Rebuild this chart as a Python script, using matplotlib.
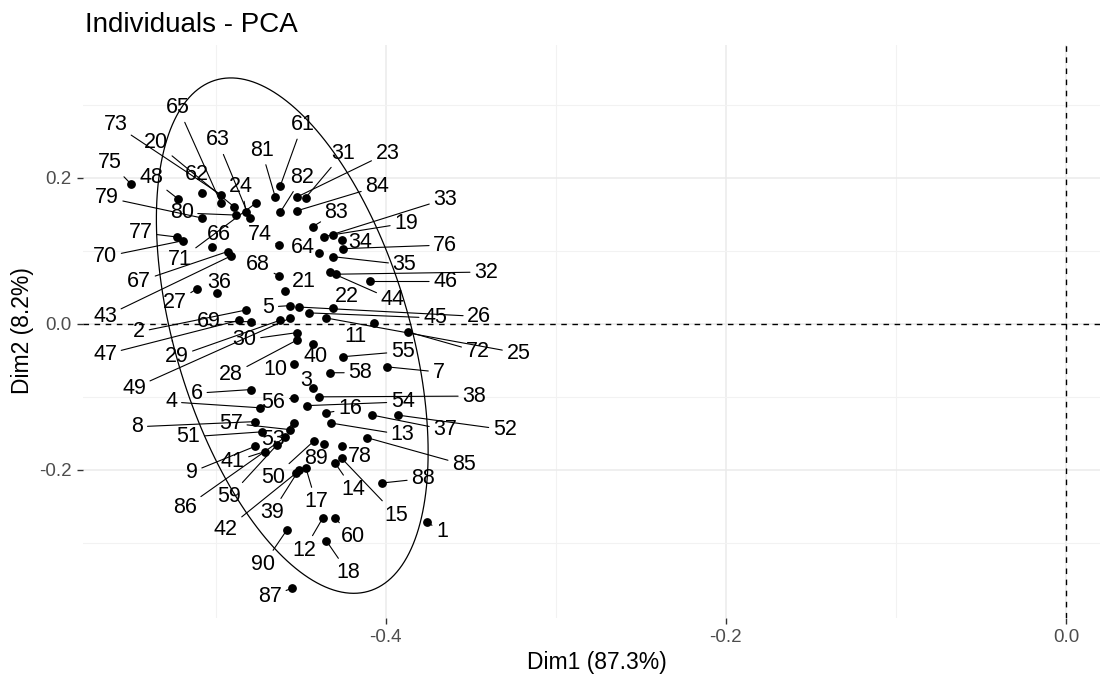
import numpy as np
import matplotlib
matplotlib.use("Agg")
from matplotlib import pyplot as plt

plt.rcParams['font.family'] = ['Liberation Sans', 'DejaVu Sans']

# individuals 1..90, coordinates on Dim1 / Dim2
ind_ids = list(range(1, 91))
dim1 = [-0.376, -0.482, -0.443, -0.474, -0.456, -0.479, -0.399, -0.477, -0.477, -0.454,
        -0.407, -0.437, -0.432, -0.430, -0.426, -0.435, -0.447, -0.435, -0.431, -0.489,
        -0.459, -0.431, -0.452, -0.482, -0.435, -0.451, -0.511, -0.452, -0.462, -0.452,
        -0.447, -0.429, -0.436, -0.426, -0.431, -0.499, -0.408, -0.439, -0.451, -0.443,
        -0.471, -0.453, -0.491, -0.433, -0.445, -0.409, -0.486, -0.522, -0.456, -0.442,
        -0.473, -0.393, -0.454, -0.446, -0.425, -0.454, -0.456, -0.433, -0.464, -0.430,
        -0.462, -0.508, -0.480, -0.439, -0.497, -0.502, -0.493, -0.463, -0.479, -0.519,
        -0.476, -0.387, -0.497, -0.463, -0.550, -0.425, -0.523, -0.426, -0.508, -0.488,
        -0.465, -0.462, -0.443, -0.452, -0.411, -0.459, -0.455, -0.402, -0.436, -0.458]
dim2 = [-0.271, 0.019, -0.088, -0.115, 0.025, -0.090, -0.059, -0.134, -0.168, -0.055,
        0.001, -0.266, -0.136, -0.190, -0.184, -0.122, -0.197, -0.297, 0.122, 0.160,
        0.045, 0.022, 0.174, 0.153, 0.008, 0.023, 0.048, -0.022, 0.005, -0.012,
        0.173, 0.068, 0.119, 0.115, 0.092, 0.042, -0.125, -0.100, -0.200, -0.027,
        -0.175, -0.205, 0.093, 0.071, 0.015, 0.058, 0.005, 0.171, 0.008, -0.160,
        -0.148, -0.125, -0.136, -0.112, -0.045, -0.101, -0.145, -0.067, -0.166, -0.266,
        0.189, 0.179, 0.145, 0.097, 0.166, 0.105, 0.099, 0.066, 0.003, 0.114,
        0.166, -0.011, 0.177, 0.108, 0.192, 0.103, 0.119, -0.168, 0.145, 0.149,
        0.174, 0.153, 0.133, 0.155, -0.156, -0.155, -0.362, -0.218, -0.164, -0.282]

# where the repelled labels ended up (layout only)
lab_x = [-0.367, -0.545, -0.447, -0.526, -0.469, -0.511, -0.369, -0.546, -0.514, -0.465,
         -0.418, -0.448, -0.390, -0.419, -0.394, -0.421, -0.441, -0.422, -0.388, -0.535,
         -0.448, -0.423, -0.399, -0.485, -0.322, -0.345, -0.524, -0.491, -0.523, -0.483,
         -0.425, -0.341, -0.365, -0.415, -0.389, -0.498, -0.365, -0.348, -0.467, -0.441,
         -0.490, -0.494, -0.565, -0.396, -0.371, -0.365, -0.565, -0.538, -0.548, -0.466,
         -0.516, -0.330, -0.466, -0.390, -0.390, -0.466, -0.491, -0.415, -0.492, -0.419,
         -0.449, -0.511, -0.499, -0.449, -0.522, -0.498, -0.545, -0.475, -0.504, -0.565,
         -0.521, -0.346, -0.559, -0.474, -0.562, -0.365, -0.544, -0.415, -0.564, -0.520,
         -0.473, -0.449, -0.429, -0.405, -0.354, -0.518, -0.468, -0.378, -0.441, -0.472]
lab_y = [-0.285, -0.011, -0.078, -0.107, 0.023, -0.095, -0.066, -0.141, -0.203, -0.063,
         -0.018, -0.310, -0.152, -0.227, -0.262, -0.116, -0.244, -0.341, 0.138, 0.248,
         0.058, 0.037, 0.234, 0.188, -0.040, 0.010, 0.029, -0.070, -0.045, -0.022,
         0.234, 0.071, 0.171, 0.112, 0.081, 0.056, -0.145, -0.099, -0.259, -0.045,
         -0.189, -0.282, 0.010, 0.033, 0.008, 0.058, -0.042, 0.200, -0.088, -0.211,
         -0.155, -0.145, -0.159, -0.107, -0.038, -0.108, -0.136, -0.067, -0.237, -0.292,
         0.273, 0.204, 0.252, 0.105, 0.296, 0.122, 0.058, 0.081, 0.003, 0.092,
         0.088, -0.038, 0.273, 0.122, 0.221, 0.108, 0.125, -0.182, 0.173, 0.152,
         0.238, 0.201, 0.153, 0.188, -0.193, -0.252, -0.374, -0.212, -0.184, -0.330]

x = np.array(dim1)
y = np.array(dim2)

fig = plt.figure(figsize=(11.03, 6.82), dpi=100)
ax = fig.add_axes([83 / 1103, 1 - 618 / 682, 1017 / 1103, 573 / 682])
ax.set_xlim(-0.578, 0.020)
ax.set_ylim(-0.403, 0.382)

# grid like theme_minimal
ax.set_xticks([-0.4, -0.2, 0.0])
ax.set_xticklabels(['-0.4', '-0.2', '0.0'])
ax.set_yticks([-0.2, 0.0, 0.2])
ax.set_yticklabels(['-0.2', '0.0', '0.2'])
ax.set_xticks([-0.5, -0.3, -0.1], minor=True)
ax.set_yticks([-0.3, -0.1, 0.1, 0.3], minor=True)
ax.grid(True, which='major', color='#EBEBEB', lw=1.1)
ax.grid(True, which='minor', color='#F2F2F2', lw=0.8)
ax.set_axisbelow(True)
for s in ax.spines.values():
    s.set_visible(False)
ax.tick_params(which='major', length=4, width=1, color='#333333',
               labelsize=13.5, labelcolor='#4D4D4D', pad=4)
ax.tick_params(which='minor', length=0)

ax.axhline(0, color='black', lw=1, ls=(0, (4, 4)))
ax.axvline(0, color='black', lw=1, ls=(0, (4, 4)))

# 95% concentration ellipse from the individuals
center = np.array([x.mean(), y.mean()])
cov = np.cov(np.vstack([x, y]))
vals, vecs = np.linalg.eigh(cov)
radius = np.sqrt(2 * 3.05)  # 2 * F(0.95; 2, n-1)
t = np.linspace(0, 2 * np.pi, 200)
circle = np.vstack([np.cos(t), np.sin(t)])
ell = center[:, None] + radius * vecs @ (np.sqrt(vals)[:, None] * circle)
ax.plot(ell[0], ell[1], color='black', lw=0.9)

ax.scatter(x, y, s=28, color='black', zorder=3)

fig.canvas.draw()
to_px = ax.transData
for i, name in enumerate(ind_ids):
    p = to_px.transform((x[i], y[i]))
    q = to_px.transform((lab_x[i], lab_y[i]))
    far = np.hypot(*(p - q)) > 18
    ax.annotate(str(name), (x[i], y[i]), xytext=(lab_x[i], lab_y[i]),
                textcoords='data', ha='center', va='center', fontsize=15.5,
                color='black', zorder=4,
                arrowprops=dict(arrowstyle='-', color='black', lw=0.8,
                                shrinkA=1, shrinkB=2) if far else None)

fig.text(85 / 1103, 1 - 32 / 682, 'Individuals - PCA', fontsize=20,
         ha='left', va='baseline')
fig.text(597 / 1103, 1 - 662 / 682, 'Dim1 (87.3%)', fontsize=16.5,
         ha='center', va='center')
fig.text(22 / 1103, 1 - 331 / 682, 'Dim2 (8.2%)', fontsize=16.5,
         ha='center', va='center', rotation=90)

plt.savefig("out.png", dpi=100)
